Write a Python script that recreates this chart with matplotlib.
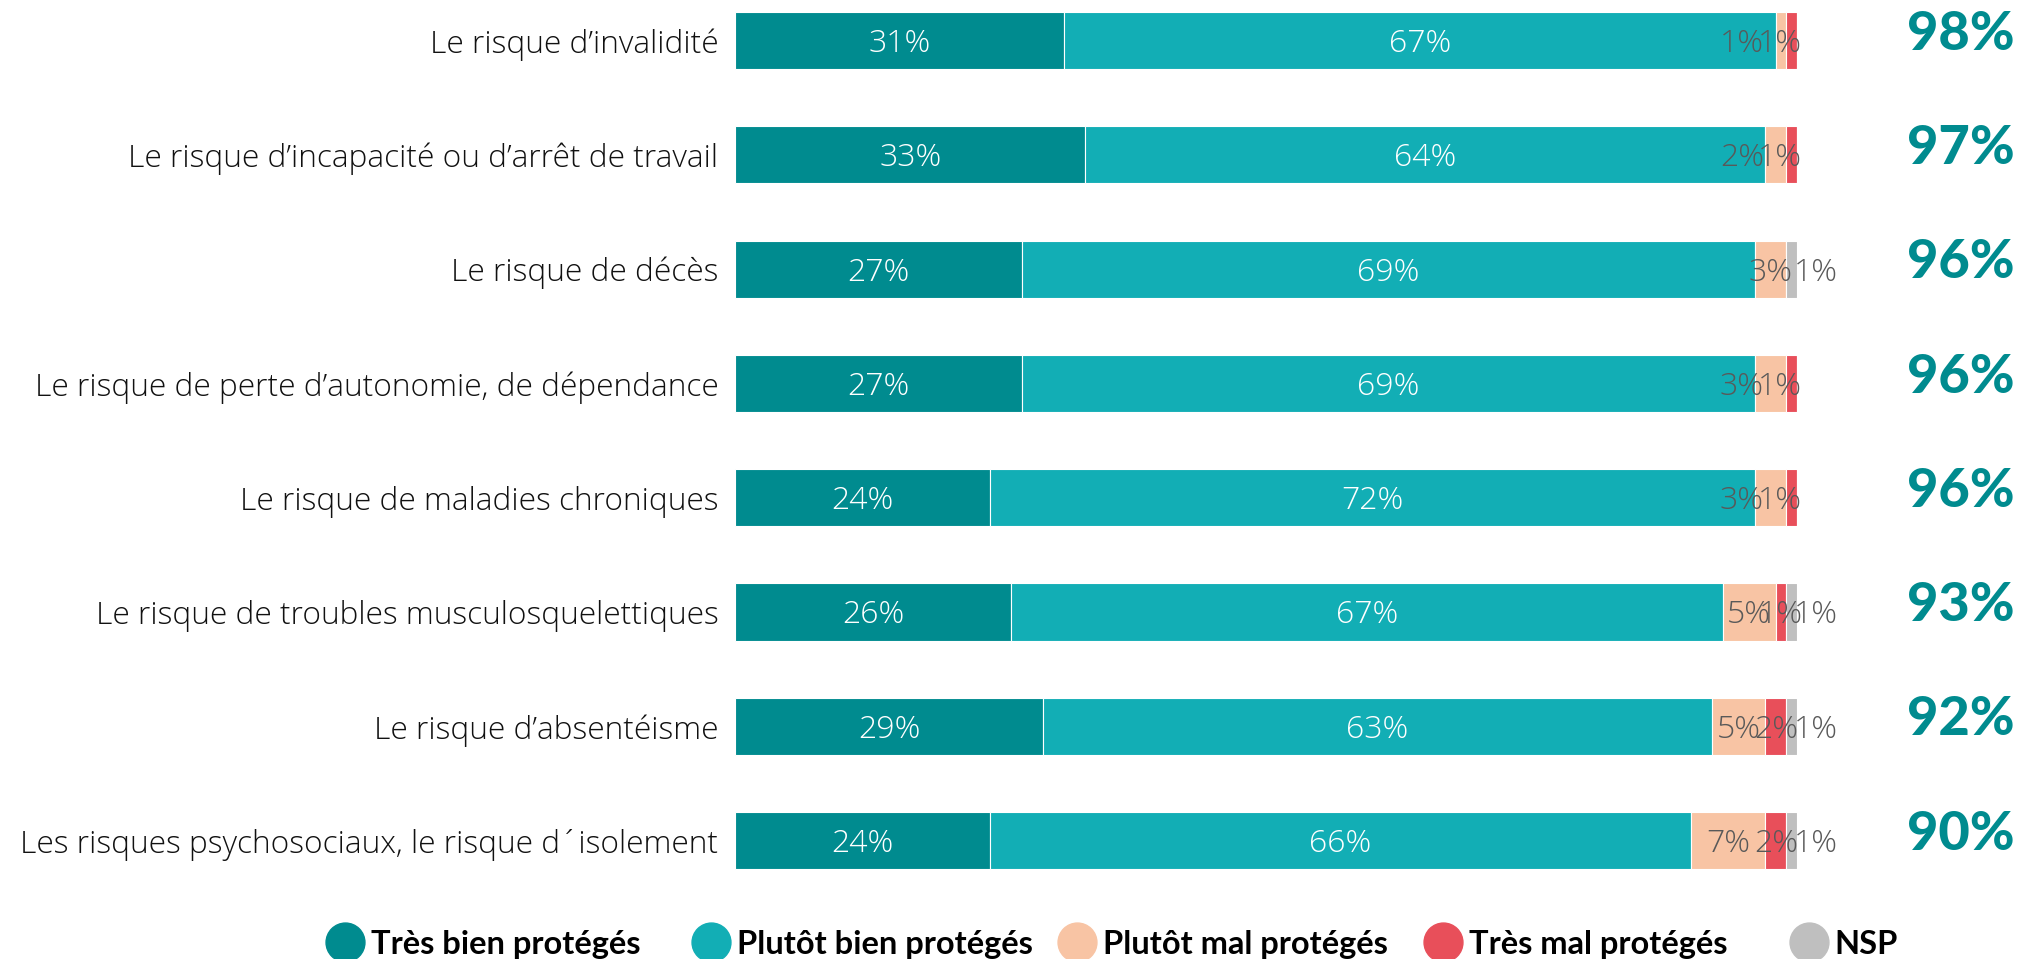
import matplotlib
matplotlib.use("Agg")
import matplotlib.pyplot as plt
from matplotlib.lines import Line2D

# Data
categories = [
    "Le risque d’invalidité",
    "Le risque d’incapacité ou d’arrêt de travail",
    "Le risque de décès",
    "Le risque de perte d’autonomie, de dépendance",
    "Le risque de maladies chroniques",
    "Le risque de troubles musculosquelettiques",
    "Le risque d’absentéisme",
    "Les risques psychosociaux, le risque d´isolement",
]
tres_bien = [31, 33, 27, 27, 24, 26, 29, 24]
plutot_bien = [67, 64, 69, 69, 72, 67, 63, 66]
plutot_mal = [1, 2, 3, 3, 3, 5, 5, 7]
tres_mal = [1, 1, 0, 1, 1, 1, 2, 2]
nsp = [0, 0, 1, 0, 0, 1, 1, 1]
totals = [98, 97, 96, 96, 96, 93, 92, 90]

series_names = ["Très bien protégés", "Plutôt bien protégés", "Plutôt mal protégés",
                "Très mal protégés", "NSP"]
colors = ["#008b8f", "#12aeb5", "#f8c4a4", "#e84f5a", "#bfbfbf"]

plt.rcParams['font.family'] = ['Open Sans', 'DejaVu Sans']
label_font = dict(family=['Open Sans', 'DejaVu Sans'], weight='light')
bold_font = ['Lato', 'DejaVu Sans']

fig = plt.figure(figsize=(20.21, 9.59), dpi=100)
ax = fig.add_axes([735 / 2021, 1 - 900 / 959, 1062 / 2021, 900 / 959])

series = [tres_bien, plutot_bien, plutot_mal, tres_mal, nsp]
y = list(range(len(categories)))
left = [0] * len(categories)
for vals, color in zip(series, colors):
    ax.barh(y, vals, left=left, height=0.5, color=color, edgecolor="white", linewidth=0.8)
    left = [l + v for l, v in zip(left, vals)]

# value labels
val_size = 23
for i in y:
    ax.text(tres_bien[i] / 2, i + 0.1, f"{tres_bien[i]}%", ha="center", va="baseline",
            color="white", fontsize=val_size, **label_font)
    ax.text(tres_bien[i] + plutot_bien[i] / 2, i + 0.1, f"{plutot_bien[i]}%", ha="center",
            va="baseline", color="white", fontsize=val_size, **label_font)
    start_mal = tres_bien[i] + plutot_bien[i]
    if nsp[i]:
        x_pm = start_mal + plutot_mal[i] / 2
        x_tm = start_mal + plutot_mal[i] + tres_mal[i] / 2
    else:
        x_pm = 94.8
        x_tm = 98.4
    ax.text(x_pm, i + 0.1, f"{plutot_mal[i]}%", ha="center", va="baseline",
            color="#595959", fontsize=val_size, **label_font)
    if tres_mal[i]:
        ax.text(x_tm, i + 0.1, f"{tres_mal[i]}%", ha="center", va="baseline",
                color="#595959", fontsize=val_size, **label_font)
    if nsp[i]:
        ax.text(99.7, i + 0.1, f"{nsp[i]}%", ha="left", va="baseline",
                color="#595959", fontsize=val_size, **label_font)
    ax.text(120.5, i + 0.08, f"{totals[i]}%", ha="right", va="baseline",
            color="#008b8f", fontsize=39, fontweight="black", family=bold_font, clip_on=False)

ax.set_xlim(0, 100)
ax.set_ylim((900 - 40.5) / 114.3, -40.5 / 114.3)
ax.set_yticks(y, categories, fontsize=22.8, color="#111111", **label_font)
ax.tick_params(axis="y", length=0, pad=12)
ax.set_xticks([])
for s in ax.spines.values():
    s.set_visible(False)

# legend: one entry per fixed-width column
for k, (name, c) in enumerate(zip(series_names, colors)):
    h = Line2D([], [], marker="o", linestyle="none", markersize=28,
               markerfacecolor=c, markeredgecolor=c)
    fig.legend([h], [name], loc="center left", bbox_to_anchor=((325 + 366 * k) / 2021, 0.0156),
               frameon=False, prop={"size": 23.5, "weight": "bold", "family": bold_font},
               handlelength=1.2, handletextpad=0.2, borderaxespad=0, borderpad=0)

fig.savefig("out.png", dpi=100)
